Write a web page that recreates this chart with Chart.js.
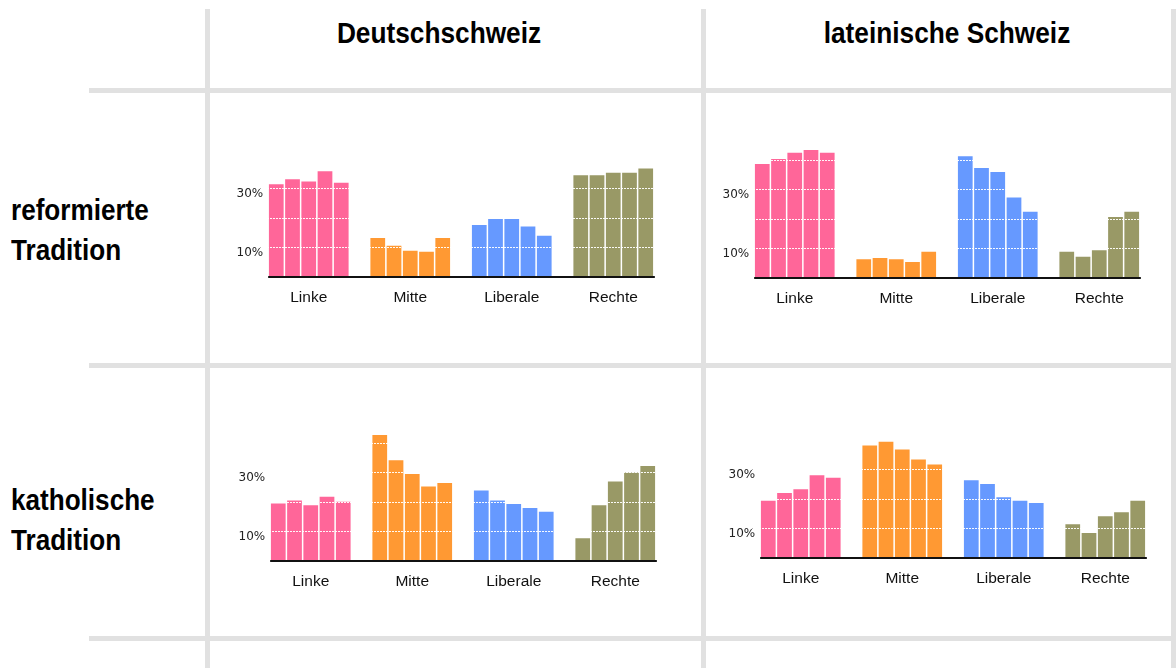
<!DOCTYPE html>
<html>
<head>
<meta charset="utf-8">
<script src="https://cdn.jsdelivr.net/npm/chart.js@4/dist/chart.umd.min.js"></script>
<style>
  html, body { margin: 0; padding: 0; background: #fff; }
  body { width: 1176px; height: 668px; position: relative; overflow: hidden; font-family: "Liberation Sans", Arial, sans-serif; }
  .vl { position: absolute; background: #e1e1e1; width: 5px; top: 9px; bottom: 0; }
  .hl { position: absolute; background: #e1e1e1; height: 5px; left: 89px; right: 0; }
  .title { position: absolute; font-weight: bold; font-size: 30px; line-height: 39.7px; white-space: nowrap; color: #000;
           transform: translateX(-50%) scaleX(0.875); }
  .row { position: absolute; left: 11px; font-weight: bold; font-size: 30px; line-height: 39.7px; white-space: nowrap; color: #000;
         transform: scaleX(0.87); transform-origin: 0 0; }
  canvas { position: absolute; }
</style>
</head>
<body>
<div class="vl" style="left:205px"></div>
<div class="vl" style="left:701px"></div>
<div class="vl" style="left:1171px"></div>
<div class="hl" style="top:88px"></div>
<div class="hl" style="top:363px"></div>
<div class="hl" style="top:636px"></div>

<div class="title" style="left:439px; top:13px">Deutschschweiz</div>
<div class="title" style="left:947px; top:13px">lateinische Schweiz</div>
<div class="row" style="top:190px">reformierte<br>Tradition</div>
<div class="row" style="top:480px">katholische<br>Tradition</div>

<canvas id="c1" width="436" height="195" style="left:228px; top:127px"></canvas>
<canvas id="c2" width="436" height="195" style="left:714px; top:128px"></canvas>
<canvas id="c3" width="436" height="195" style="left:230px; top:411px"></canvas>
<canvas id="c4" width="436" height="195" style="left:720px; top:408px"></canvas>

<script>
// ---- data ----
const categories = ['Linke', 'Mitte', 'Liberale', 'Rechte'];
const elections = ['Wahl 1', 'Wahl 2', 'Wahl 3', 'Wahl 4', 'Wahl 5'];
const yTickLabels = [10, 30];
const categoryColors = ['#ff6699', '#ff9933', '#6699ff', '#999966'];

// Deutschschweiz, reformierte Tradition
const dsRefLinke    = [31.9, 33.6, 32.8, 36.3, 32.4];
const dsRefMitte    = [13.6, 11.0, 9.3, 8.9, 13.6];
const dsRefLiberale = [18.0, 20.1, 20.1, 17.5, 14.4];
const dsRefRechte   = [34.9, 34.9, 35.8, 35.8, 37.2];

// lateinische Schweiz, reformierte Tradition
const lsRefLinke    = [39.1, 40.8, 42.9, 43.9, 42.9];
const lsRefMitte    = [6.7, 7.1, 6.7, 5.8, 9.3];
const lsRefLiberale = [41.7, 37.7, 36.4, 27.7, 22.9];
const lsRefRechte   = [9.3, 7.6, 9.8, 21.1, 22.9];

// Deutschschweiz, katholische Tradition
const dsKatLinke    = [19.9, 20.9, 19.3, 22.2, 20.5];
const dsKatMitte    = [43.2, 34.6, 29.9, 25.7, 26.9];
const dsKatLiberale = [24.3, 20.9, 19.7, 18.4, 17.1];
const dsKatRechte   = [8.1, 19.3, 27.4, 30.4, 32.6];

// lateinische Schweiz, katholische Tradition
const lsKatLinke    = [19.8, 22.4, 23.7, 28.5, 27.6];
const lsKatMitte    = [38.6, 39.9, 37.2, 33.8, 32.1];
const lsKatLiberale = [26.8, 25.5, 21.0, 19.8, 19.0];
const lsKatRechte   = [11.8, 8.8, 14.5, 15.9, 19.8];

// ---- chart building ----
const baselinePlugin = {
  id: 'baseline',
  afterDatasetsDraw(chart) {
    const n = chart.data.datasets.length;
    const first = chart.getDatasetMeta(0).data[0];
    const last = chart.getDatasetMeta(n - 1).data[chart.data.labels.length - 1];
    if (!first || !last) return;
    const y = chart.scales.y.getPixelForValue(0);
    const ctx = chart.ctx;
    ctx.save();
    ctx.strokeStyle = '#111';
    ctx.lineWidth = 2;
    ctx.beginPath();
    ctx.moveTo(first.x - first.width / 2, y);
    ctx.lineTo(last.x + last.width / 2 + 1, y);
    ctx.stroke();
    ctx.restore();
  }
};

function makeChart(id, linke, mitte, liberale, rechte) {
  const series = [linke, mitte, liberale, rechte];
  const datasets = elections.map((name, i) => ({
    label: name,
    data: series.map(s => s[i]),
    backgroundColor: categoryColors,
    borderColor: 'rgba(255,255,255,0.7)',
    borderWidth: { top: 1, left: 0.75, right: 0.75, bottom: 0 },
    borderSkipped: 'start',
    categoryPercentage: 0.8,
    barPercentage: 1.0
  }));
  new Chart(document.getElementById(id), {
    type: 'bar',
    data: { labels: categories, datasets },
    plugins: [baselinePlugin],
    options: {
      responsive: false,
      animation: false,
      devicePixelRatio: 1,
      layout: { padding: 0 },
      plugins: { legend: { display: false }, tooltip: { enabled: false }, title: { display: false } },
      scales: {
        x: {
          grid: { display: false },
          border: { display: false },
          ticks: { color: '#111', padding: 3, font: { family: '"Liberation Sans", Arial, sans-serif', size: 15.5 } },
          afterFit(scale) { scale.height = 45; }
        },
        y: {
          min: 0,
          max: 51,
          grid: {
            z: 1,
            drawTicks: false,
            lineWidth: 1,
            color: ctx => (ctx.tick && [10, 20, 30, 40].includes(ctx.tick.value)) ? 'rgba(255,255,255,0.95)' : 'rgba(0,0,0,0)'
          },
          border: { display: false, dash: [2, 1] },
          ticks: {
            stepSize: 10,
            mirror: true,
            padding: -21.5,
            labelOffset: 5,
            color: '#222',
            font: { family: '"DejaVu Sans", Verdana, sans-serif', size: 12 },
            callback: v => yTickLabels.includes(v) ? v + '%' : ''
          },
          afterFit(scale) { scale.width = 30; }
        }
      }
    }
  });
}

makeChart('c1', dsRefLinke, dsRefMitte, dsRefLiberale, dsRefRechte);
makeChart('c2', lsRefLinke, lsRefMitte, lsRefLiberale, lsRefRechte);
makeChart('c3', dsKatLinke, dsKatMitte, dsKatLiberale, dsKatRechte);
makeChart('c4', lsKatLinke, lsKatMitte, lsKatLiberale, lsKatRechte);
</script>
</body>
</html>
